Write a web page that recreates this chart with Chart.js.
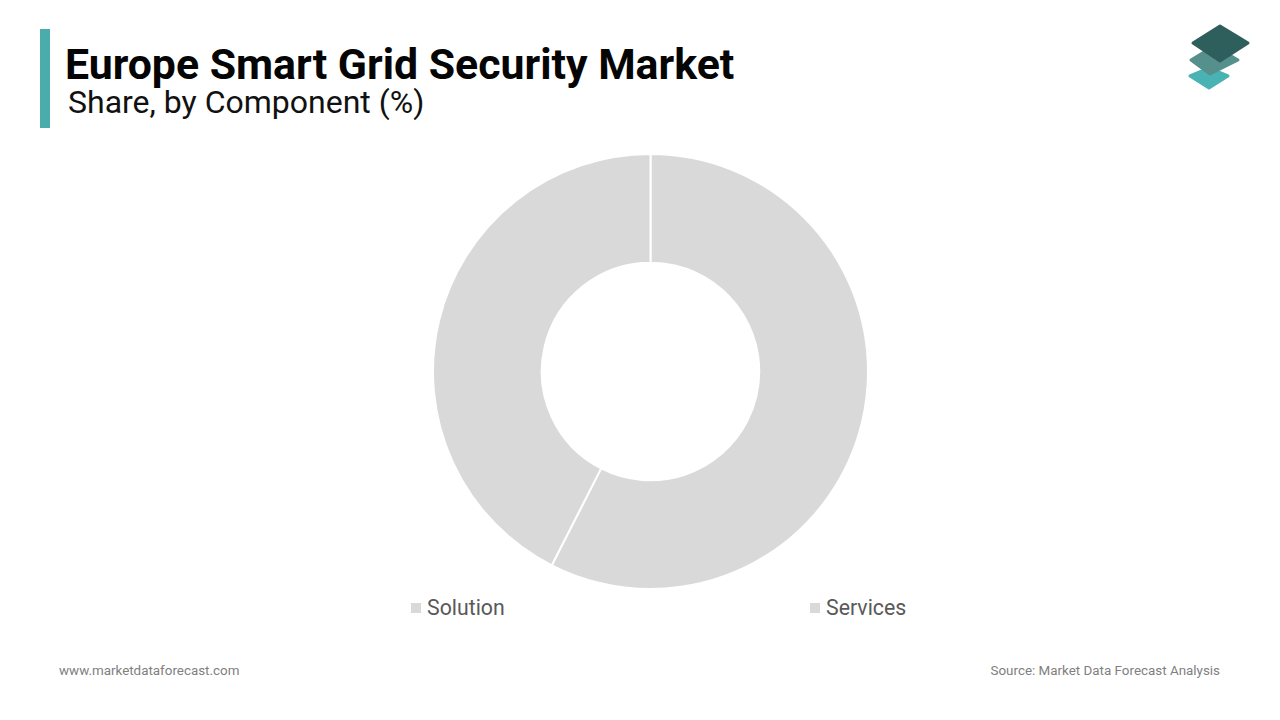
<!DOCTYPE html>
<html>
<head>
<meta charset="utf-8">
<title>Europe Smart Grid Security Market</title>
<script src="https://cdn.jsdelivr.net/npm/chart.js@4"></script>
<style>
  html, body { margin: 0; padding: 0; background: #fff; }
  body { width: 1280px; height: 720px; position: relative; overflow: hidden; font-family: Roboto, sans-serif; }
  .abs { position: absolute; white-space: nowrap; }
  #bar { left: 40px; top: 29px; width: 10px; height: 99px; background: #4bacac; }
  #title { left: 65px; top: 39px; font-size: 42.8px; line-height: 50px; font-weight: 700; color: #050505; }
  #subtitle { left: 68px; top: 83px; font-size: 32px; line-height: 38px; color: #111; }
  #chartBox { left: 432px; top: 153px; width: 437px; height: 437px; }
  .legend-item { top: 596px; font-size: 21.3px; line-height: 24px; color: #595959; }
  .legend-item i { position: absolute; left: -16px; top: 7px; width: 10px; height: 10px; }
  .foot { top: 662px; font-size: 13.4px; line-height: 18px; color: #808080; }
  #logo { left: 1180px; top: 18px; }
</style>
</head>
<body>
<div class="abs" id="bar"></div>
<div class="abs" id="title">Europe Smart Grid Security Market</div>
<div class="abs" id="subtitle">Share, by Component (%)</div>
<svg class="abs" id="logo" width="80" height="80" viewBox="0 0 80 80">
  <path d="M29 50 L48 58 L29 70 L10 58 Z" fill="#49b3b3" stroke="#49b3b3" stroke-width="3" stroke-linejoin="round"/>
  <path d="M34 28 L58 42 L30 56 L11 42 Z" fill="#56908c" stroke="#56908c" stroke-width="3" stroke-linejoin="round"/>
  <path d="M40 8 L68 25 L40 43 L13 25 Z" fill="#2f5f5d" stroke="#2f5f5d" stroke-width="3" stroke-linejoin="round"/>
</svg>
<div class="abs" id="chartBox"><canvas id="chart"></canvas></div>
<div id="legend"></div>
<div class="abs foot" style="left:59px">www.marketdataforecast.com</div>
<div class="abs foot" style="right:60px">Source: Market Data Forecast Analysis</div>
<script>
  const categories = ["Solution", "Services"];
  const shares = [57.5, 42.5];
  const sliceColors = ["#d9d9d9", "#d9d9d9"];
  const legendLefts = [427, 826];

  document.getElementById("legend").innerHTML = categories.map((c, i) =>
    `<div class="abs legend-item" style="left:${legendLefts[i]}px"><i style="background:${sliceColors[i]}"></i>${c}</div>`
  ).join("");

  new Chart(document.getElementById("chart"), {
    type: "doughnut",
    data: {
      labels: categories,
      datasets: [{ data: shares, backgroundColor: sliceColors, borderColor: "#fff", borderWidth: 2 }]
    },
    options: {
      responsive: true,
      maintainAspectRatio: true,
      aspectRatio: 1,
      animation: false,
      cutout: "50%",
      plugins: { legend: { display: false }, tooltip: { enabled: false } }
    }
  });
</script>
</body>
</html>
